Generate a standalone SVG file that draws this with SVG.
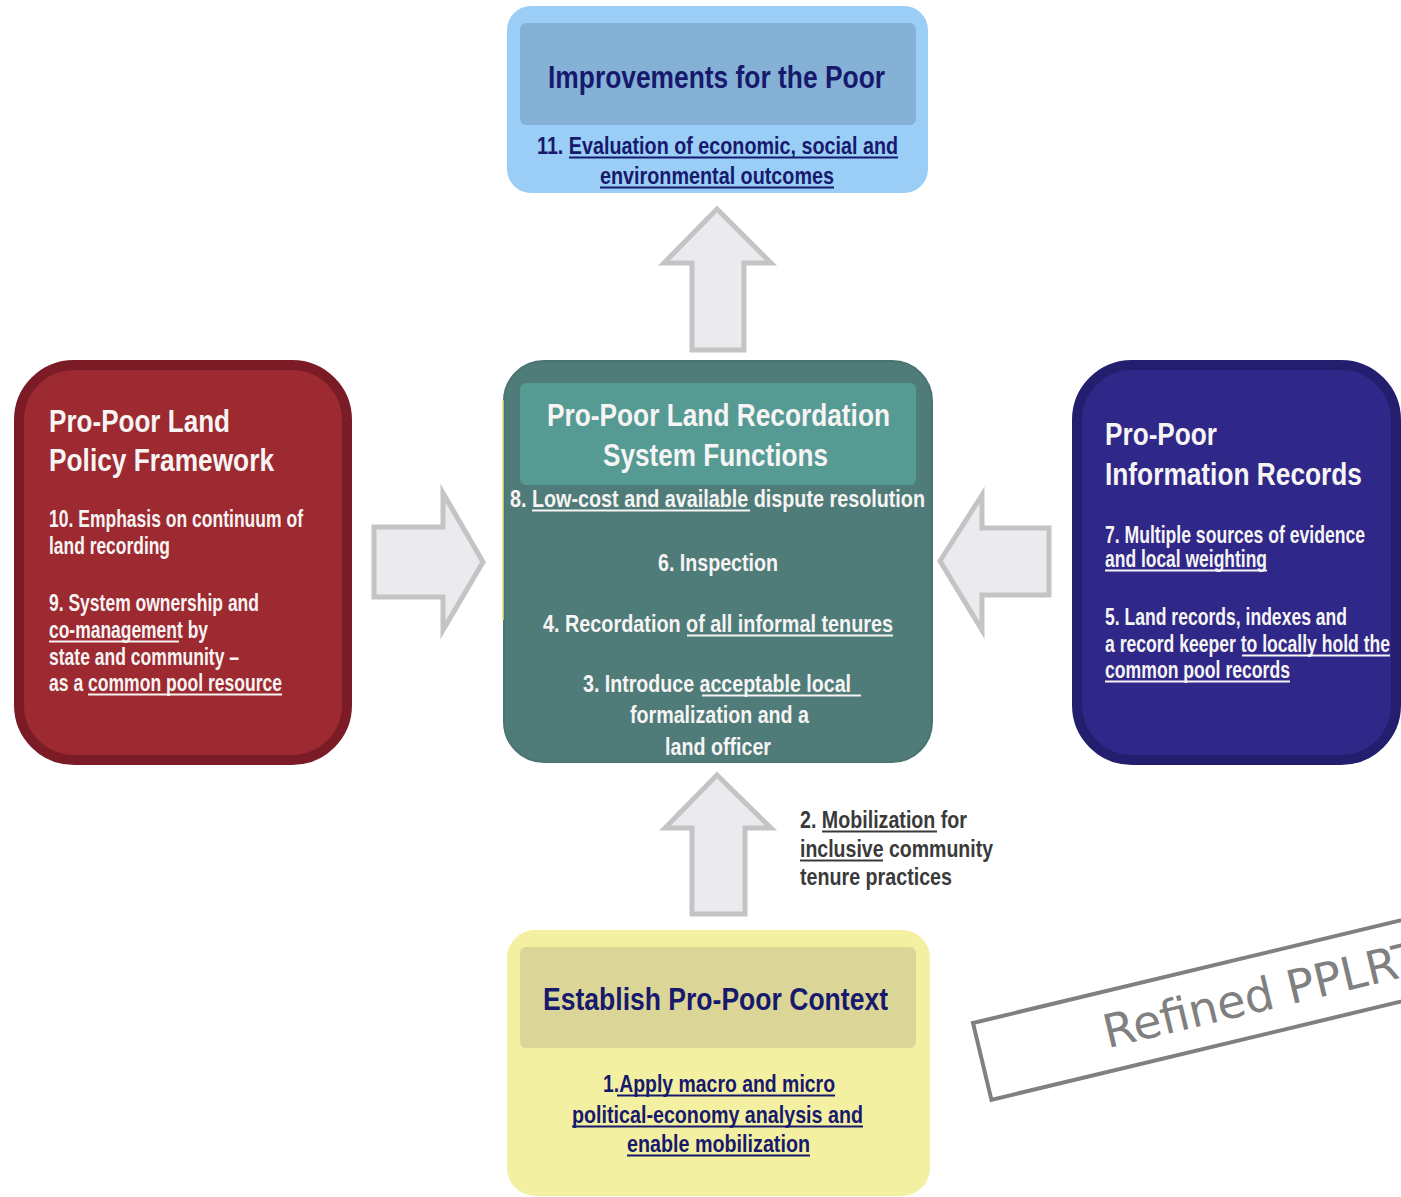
<svg xmlns="http://www.w3.org/2000/svg" width="1401" height="1197" viewBox="0 0 1401 1197">
<style>
text{font-family:"Liberation Sans",Arial,sans-serif;font-weight:bold;}
.t{font-size:32px;}
.b{font-size:24px;}
.s{font-size:23px;}
.w{fill:#F7F4F4;}
.n{fill:#17196C;}
.g{fill:#3A3A3A;}
.uw{stroke:#F7F4F4;stroke-width:1.8;}
.un{stroke:#17196C;stroke-width:1.8;}
.ug{stroke:#3A3A3A;stroke-width:1.8;}
.arrow{fill:#EBEBEF;stroke:#C4C4C4;stroke-width:5;stroke-linejoin:miter;}
</style>
<rect width="1401" height="1197" fill="#FFFFFF"/>
<g id="connectors">
<path class="arrow" d="M717,209 L771,263 L744,263 L744,350 L692,350 L692,263 L664,263 Z"/>
<path class="arrow" d="M717,775 L771,828 L745,828 L745,914 L692,914 L692,828 L665,828 Z"/>
<path class="arrow" d="M483,562 L443,493 L443,527 L374,527 L374,597 L443,597 L443,630 Z"/>
<path class="arrow" d="M940,561 L982,495 L982,528 L1049,528 L1049,595 L982,595 L982,630 Z"/>
</g>
<g id="improvements">
<rect x="507" y="6" width="421" height="187" rx="24" fill="#9ACEF6"/>
<rect x="520" y="23" width="396" height="102" rx="6" fill="#86B1D6"/>
<text class="t n" x="548" y="88" textLength="337" lengthAdjust="spacingAndGlyphs">Improvements for the Poor</text>
<text class="b n" x="537" y="154" textLength="361" lengthAdjust="spacingAndGlyphs">11. Evaluation of economic, social and</text>
<text class="b n" x="600" y="184" textLength="234" lengthAdjust="spacingAndGlyphs">environmental outcomes</text>
<line class="un" x1="569" y1="157.5" x2="898" y2="157.5"/>
<line class="un" x1="600" y1="187.5" x2="834" y2="187.5"/>
</g>
<g id="policy">
<rect x="19" y="365" width="328" height="395" rx="55" fill="#9D2931" stroke="#7B1B25" stroke-width="10"/>
<text class="t w" x="49" y="432" textLength="181" lengthAdjust="spacingAndGlyphs">Pro-Poor Land</text>
<text class="t w" x="49" y="471" textLength="225" lengthAdjust="spacingAndGlyphs">Policy Framework</text>
<text class="b w" x="49" y="527" textLength="254" lengthAdjust="spacingAndGlyphs">10. Emphasis on continuum of</text>
<text class="b w" x="49" y="554" textLength="121" lengthAdjust="spacingAndGlyphs">land recording</text>
<text class="b w" x="49" y="611" textLength="210" lengthAdjust="spacingAndGlyphs">9. System ownership and</text>
<text class="b w" x="49" y="638" textLength="159" lengthAdjust="spacingAndGlyphs">co-management by</text>
<text class="b w" x="49" y="665" textLength="190" lengthAdjust="spacingAndGlyphs">state and community –</text>
<text class="b w" x="49" y="691" textLength="233" lengthAdjust="spacingAndGlyphs">as a common pool resource</text>
<line class="uw" x1="49" y1="641.5" x2="179" y2="641.5"/>
<line class="uw" x1="88" y1="694.5" x2="282" y2="694.5"/>
</g>
<g id="functions">
<rect x="504" y="361" width="428" height="401" rx="40" fill="#4F7C79" stroke="#4A7471" stroke-width="2"/>
<line x1="503" y1="400" x2="503" y2="620" stroke="#E8E27A" stroke-width="1.5"/>
<rect x="520" y="383" width="396" height="102" rx="6" fill="#569A94"/>
<text class="t w" x="547" y="426" textLength="343" lengthAdjust="spacingAndGlyphs">Pro-Poor Land Recordation</text>
<text class="t w" x="603" y="466" textLength="225" lengthAdjust="spacingAndGlyphs">System Functions</text>
<text class="b w" x="510" y="507" textLength="415" lengthAdjust="spacingAndGlyphs">8. Low-cost and available dispute resolution</text>
<text class="b w" x="658" y="571" textLength="120" lengthAdjust="spacingAndGlyphs">6. Inspection</text>
<text class="b w" x="543" y="632" textLength="350" lengthAdjust="spacingAndGlyphs">4. Recordation of all informal tenures</text>
<text class="b w" x="583" y="692" textLength="268" lengthAdjust="spacingAndGlyphs">3. Introduce acceptable local</text>
<text class="b w" x="630" y="723" textLength="179" lengthAdjust="spacingAndGlyphs">formalization and a</text>
<text class="b w" x="665" y="755" textLength="106" lengthAdjust="spacingAndGlyphs">land officer</text>
<line class="uw" x1="532" y1="510.5" x2="750" y2="510.5"/>
<line class="uw" x1="687" y1="635.5" x2="893" y2="635.5"/>
<line class="uw" x1="702" y1="695.5" x2="861" y2="695.5"/>
</g>
<g id="records">
<rect x="1077" y="365" width="319" height="395" rx="55" fill="#2F2889" stroke="#241E6E" stroke-width="10"/>
<text class="t w" transform="translate(1105,445) scale(0.82,1)" x="0" y="0" textLength="136.6" lengthAdjust="spacingAndGlyphs">Pro-Poor</text>
<text class="t w" transform="translate(1105,485) scale(0.82,1)" x="0" y="0" textLength="313.4" lengthAdjust="spacingAndGlyphs">Information Records</text>
<text class="s w" transform="translate(1105,543) scale(0.78,1)" x="0" y="0" textLength="333.3" lengthAdjust="spacingAndGlyphs">7. Multiple sources of evidence</text>
<text class="s w" transform="translate(1105,567) scale(0.78,1)" x="0" y="0" textLength="207.7" lengthAdjust="spacingAndGlyphs">and local weighting</text>
<text class="b w" transform="translate(1105,625) scale(0.78,1)" x="0" y="0" textLength="310.3" lengthAdjust="spacingAndGlyphs">5. Land records, indexes and</text>
<text class="b w" transform="translate(1105,652) scale(0.7,1)" x="0" y="0" textLength="407.1" lengthAdjust="spacingAndGlyphs">a record keeper to locally hold the</text>
<text class="b w" transform="translate(1105,678) scale(0.78,1)" x="0" y="0" textLength="237.2" lengthAdjust="spacingAndGlyphs">common pool records</text>
<line class="uw" x1="1105" y1="570.5" x2="1267" y2="570.5"/>
<line class="uw" x1="1242" y1="655.5" x2="1390" y2="655.5"/>
<line class="uw" x1="1105" y1="681.5" x2="1290" y2="681.5"/>
</g>
<g id="mobilization-label">
<text class="b g" x="800" y="828" textLength="167" lengthAdjust="spacingAndGlyphs">2. Mobilization for</text>
<text class="b g" x="800" y="857" textLength="193" lengthAdjust="spacingAndGlyphs">inclusive community</text>
<text class="b g" x="800" y="885" textLength="152" lengthAdjust="spacingAndGlyphs">tenure practices</text>
<line class="ug" x1="822" y1="831.5" x2="937" y2="831.5"/>
<line class="ug" x1="800" y1="860.5" x2="883" y2="860.5"/>
</g>
<g id="context">
<rect x="507" y="930" width="423" height="266" rx="28" fill="#F4F0A2"/>
<rect x="520" y="947" width="396" height="101" rx="6" fill="#DBD697"/>
<text class="t n" x="543" y="1010" textLength="345" lengthAdjust="spacingAndGlyphs">Establish Pro-Poor Context</text>
<text class="b n" x="603" y="1092" textLength="232" lengthAdjust="spacingAndGlyphs">1.Apply macro and micro</text>
<text class="b n" x="572" y="1123" textLength="291" lengthAdjust="spacingAndGlyphs">political-economy analysis and</text>
<text class="b n" x="627" y="1152" textLength="183" lengthAdjust="spacingAndGlyphs">enable mobilization</text>
<line class="un" x1="617" y1="1095.5" x2="835" y2="1095.5"/>
<line class="un" x1="572" y1="1126.5" x2="863" y2="1126.5"/>
<line class="un" x1="627" y1="1155.5" x2="810" y2="1155.5"/>
</g>
<g id="stamp" transform="translate(973,1023) rotate(-13.5)">
<rect x="0" y="0" width="520" height="79" fill="none" stroke="#808080" stroke-width="4"/>
<text x="125" y="56" style="font-family:'DejaVu Sans',sans-serif;font-weight:normal;font-size:46px;" fill="#808080">Refined PPLRT</text>
</g>
</svg>
